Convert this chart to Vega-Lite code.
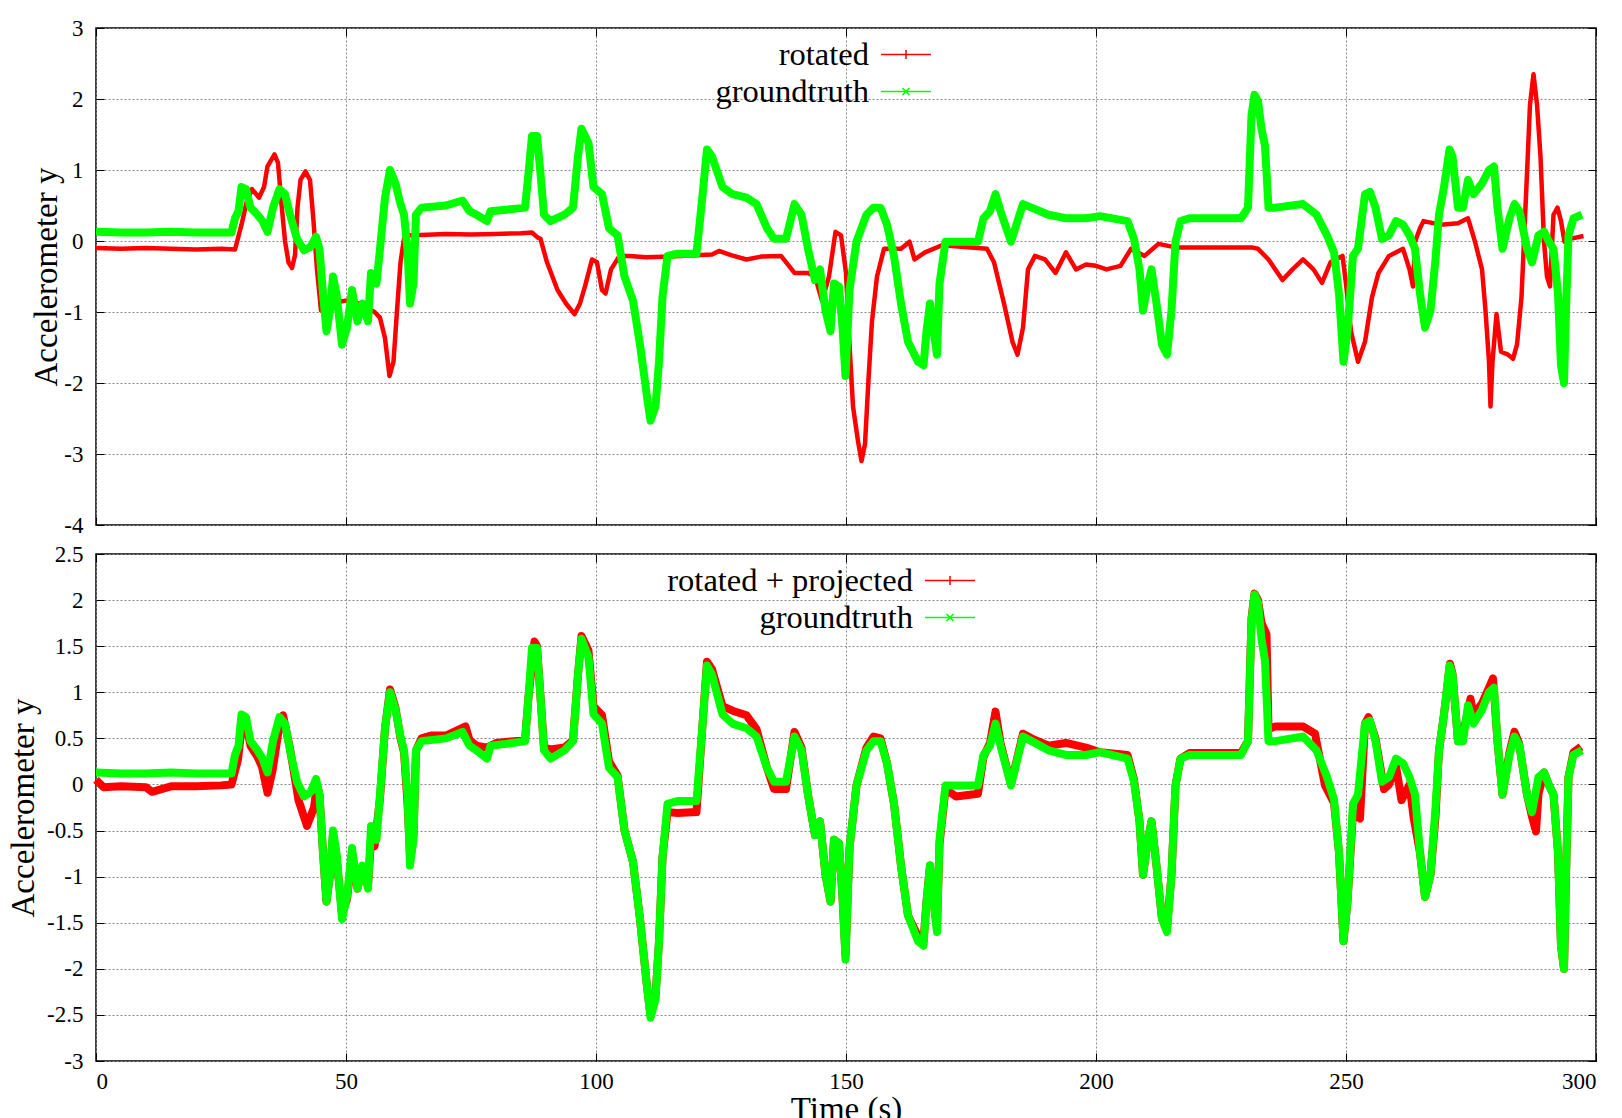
{
 "$schema": "https://vega.github.io/schema/vega-lite/v6.json",
 "background": "white",
 "padding": {"left": 6, "top": 16, "right": 12, "bottom": 4},
 "config": {
  "font": "Liberation Serif",
  "view": {"stroke": "#000000", "strokeWidth": 1.5},
  "axis": {
   "labelFont": "Liberation Serif", "labelFontSize": 23, "labelColor": "#000000",
   "titleFont": "Liberation Serif", "titleFontSize": 33, "titleFontWeight": "normal", "titleColor": "#000000",
   "domain": false, "tickColor": "#000000", "tickSize": -8, "tickWidth": 1,
   "gridColor": "#888888", "gridDash": [2, 2], "gridWidth": 1, "gridOpacity": 1
  },
  "legend": {
   "orient": "none", "title": null, "labelFont": "Liberation Serif", "labelFontSize": 32.5,
   "labelColor": "#000000", "labelAlign": "right", "labelOffset": -63, "labelLimit": 1000,
   "symbolSize": 2500, "symbolStrokeWidth": 1.5, "symbolType": "stroke", "rowPadding": 0, "clipHeight": 37
  }
 },
 "datasets": {
  "rot": [
   {"t":0,"v":-0.10,"s":"rotated"},{"t":5,"v":-0.11,"s":"rotated"},{"t":10,"v":-0.10,"s":"rotated"},{"t":15,"v":-0.11,"s":"rotated"},{"t":20,"v":-0.12,"s":"rotated"},{"t":25,"v":-0.11,"s":"rotated"},{"t":27.8,"v":-0.12,"s":"rotated"},{"t":29.1,"v":0.23,"s":"rotated"},{"t":30.2,"v":0.57,"s":"rotated"},{"t":31.2,"v":0.73,"s":"rotated"},{"t":32.6,"v":0.61,"s":"rotated"},{"t":33.6,"v":0.76,"s":"rotated"},{"t":34.3,"v":1.05,"s":"rotated"},{"t":35.7,"v":1.22,"s":"rotated"},{"t":36.4,"v":1.10,"s":"rotated"},{"t":37.1,"v":0.52,"s":"rotated"},{"t":37.8,"v":0.0,"s":"rotated"},{"t":38.5,"v":-0.30,"s":"rotated"},{"t":39.2,"v":-0.38,"s":"rotated"},{"t":39.8,"v":-0.20,"s":"rotated"},{"t":40.3,"v":0.47,"s":"rotated"},{"t":40.9,"v":0.86,"s":"rotated"},{"t":41.9,"v":0.98,"s":"rotated"},{"t":42.8,"v":0.86,"s":"rotated"},{"t":43.5,"v":0.28,"s":"rotated"},{"t":44.2,"v":-0.40,"s":"rotated"},{"t":45.0,"v":-0.98,"s":"rotated"},{"t":46.4,"v":-0.84,"s":"rotated"},{"t":47.8,"v":-0.87,"s":"rotated"},{"t":49.9,"v":-0.84,"s":"rotated"},{"t":52.6,"v":-0.88,"s":"rotated"},{"t":55.7,"v":-1.0,"s":"rotated"},{"t":56.8,"v":-1.08,"s":"rotated"},{"t":57.8,"v":-1.37,"s":"rotated"},{"t":58.7,"v":-1.90,"s":"rotated"},{"t":59.5,"v":-1.70,"s":"rotated"},{"t":60.2,"v":-0.98,"s":"rotated"},{"t":60.9,"v":-0.30,"s":"rotated"},{"t":61.6,"v":0.03,"s":"rotated"},{"t":62.3,"v":0.08,"s":"rotated"},{"t":63.7,"v":0.08,"s":"rotated"},{"t":70,"v":0.10,"s":"rotated"},{"t":75,"v":0.09,"s":"rotated"},{"t":80,"v":0.10,"s":"rotated"},{"t":85,"v":0.11,"s":"rotated"},{"t":87.2,"v":0.12,"s":"rotated"},{"t":88.3,"v":0.05,"s":"rotated"},{"t":88.9,"v":0.03,"s":"rotated"},{"t":90.2,"v":-0.30,"s":"rotated"},{"t":92.3,"v":-0.69,"s":"rotated"},{"t":94.0,"v":-0.88,"s":"rotated"},{"t":95.7,"v":-1.03,"s":"rotated"},{"t":96.8,"v":-0.88,"s":"rotated"},{"t":97.8,"v":-0.64,"s":"rotated"},{"t":99.2,"v":-0.26,"s":"rotated"},{"t":100.2,"v":-0.30,"s":"rotated"},{"t":101.2,"v":-0.69,"s":"rotated"},{"t":101.9,"v":-0.74,"s":"rotated"},{"t":103.0,"v":-0.40,"s":"rotated"},{"t":104.7,"v":-0.21,"s":"rotated"},{"t":106.7,"v":-0.21,"s":"rotated"},{"t":110,"v":-0.23,"s":"rotated"},{"t":115,"v":-0.22,"s":"rotated"},{"t":120,"v":-0.20,"s":"rotated"},{"t":123.2,"v":-0.19,"s":"rotated"},{"t":124.6,"v":-0.14,"s":"rotated"},{"t":127,"v":-0.20,"s":"rotated"},{"t":130.1,"v":-0.26,"s":"rotated"},{"t":133,"v":-0.22,"s":"rotated"},{"t":137,"v":-0.21,"s":"rotated"},{"t":139.7,"v":-0.45,"s":"rotated"},{"t":142.4,"v":-0.45,"s":"rotated"},{"t":143.8,"v":-0.50,"s":"rotated"},{"t":145.2,"v":-0.84,"s":"rotated"},{"t":146.6,"v":-0.50,"s":"rotated"},{"t":147.9,"v":0.13,"s":"rotated"},{"t":149.0,"v":0.08,"s":"rotated"},{"t":150.0,"v":-0.45,"s":"rotated"},{"t":150.7,"v":-1.46,"s":"rotated"},{"t":151.4,"v":-2.33,"s":"rotated"},{"t":152.4,"v":-2.82,"s":"rotated"},{"t":153.1,"v":-3.10,"s":"rotated"},{"t":153.8,"v":-2.86,"s":"rotated"},{"t":154.5,"v":-1.95,"s":"rotated"},{"t":155.2,"v":-1.13,"s":"rotated"},{"t":156.2,"v":-0.50,"s":"rotated"},{"t":157.6,"v":-0.11,"s":"rotated"},{"t":159.6,"v":-0.11,"s":"rotated"},{"t":161,"v":-0.11,"s":"rotated"},{"t":162.7,"v":-0.01,"s":"rotated"},{"t":163.7,"v":-0.26,"s":"rotated"},{"t":165.8,"v":-0.16,"s":"rotated"},{"t":169.2,"v":-0.06,"s":"rotated"},{"t":175,"v":-0.09,"s":"rotated"},{"t":178.2,"v":-0.11,"s":"rotated"},{"t":179.6,"v":-0.30,"s":"rotated"},{"t":181.6,"v":-0.88,"s":"rotated"},{"t":183.3,"v":-1.42,"s":"rotated"},{"t":184.3,"v":-1.60,"s":"rotated"},{"t":185.4,"v":-1.22,"s":"rotated"},{"t":186.4,"v":-0.40,"s":"rotated"},{"t":187.8,"v":-0.21,"s":"rotated"},{"t":189.8,"v":-0.26,"s":"rotated"},{"t":191.9,"v":-0.45,"s":"rotated"},{"t":194.0,"v":-0.16,"s":"rotated"},{"t":196.0,"v":-0.40,"s":"rotated"},{"t":198,"v":-0.33,"s":"rotated"},{"t":200,"v":-0.35,"s":"rotated"},{"t":202.1,"v":-0.40,"s":"rotated"},{"t":204.9,"v":-0.35,"s":"rotated"},{"t":207.0,"v":-0.11,"s":"rotated"},{"t":209.7,"v":-0.21,"s":"rotated"},{"t":212.5,"v":-0.04,"s":"rotated"},{"t":215.9,"v":-0.09,"s":"rotated"},{"t":220,"v":-0.09,"s":"rotated"},{"t":225,"v":-0.09,"s":"rotated"},{"t":231.1,"v":-0.09,"s":"rotated"},{"t":232.4,"v":-0.11,"s":"rotated"},{"t":234.5,"v":-0.26,"s":"rotated"},{"t":237.3,"v":-0.55,"s":"rotated"},{"t":239.3,"v":-0.40,"s":"rotated"},{"t":241.4,"v":-0.26,"s":"rotated"},{"t":243.5,"v":-0.40,"s":"rotated"},{"t":245.2,"v":-0.59,"s":"rotated"},{"t":246.9,"v":-0.30,"s":"rotated"},{"t":249.3,"v":-0.21,"s":"rotated"},{"t":250.0,"v":-0.60,"s":"rotated"},{"t":251.0,"v":-1.27,"s":"rotated"},{"t":252.4,"v":-1.70,"s":"rotated"},{"t":253.8,"v":-1.42,"s":"rotated"},{"t":255.2,"v":-0.79,"s":"rotated"},{"t":256.5,"v":-0.45,"s":"rotated"},{"t":258.6,"v":-0.21,"s":"rotated"},{"t":261.4,"v":-0.11,"s":"rotated"},{"t":262.7,"v":-0.40,"s":"rotated"},{"t":263.4,"v":-0.64,"s":"rotated"},{"t":263.8,"v":-0.01,"s":"rotated"},{"t":264.8,"v":0.18,"s":"rotated"},{"t":265.5,"v":0.28,"s":"rotated"},{"t":268.9,"v":0.23,"s":"rotated"},{"t":272.4,"v":0.25,"s":"rotated"},{"t":274.4,"v":0.32,"s":"rotated"},{"t":275.8,"v":-0.01,"s":"rotated"},{"t":277.2,"v":-0.40,"s":"rotated"},{"t":277.9,"v":-0.98,"s":"rotated"},{"t":278.6,"v":-1.70,"s":"rotated"},{"t":278.9,"v":-2.33,"s":"rotated"},{"t":279.3,"v":-1.70,"s":"rotated"},{"t":280.1,"v":-1.03,"s":"rotated"},{"t":281.0,"v":-1.56,"s":"rotated"},{"t":282.4,"v":-1.60,"s":"rotated"},{"t":283.4,"v":-1.66,"s":"rotated"},{"t":284.2,"v":-1.46,"s":"rotated"},{"t":285.1,"v":-0.79,"s":"rotated"},{"t":286.2,"v":0.95,"s":"rotated"},{"t":286.8,"v":1.92,"s":"rotated"},{"t":287.5,"v":2.35,"s":"rotated"},{"t":288.2,"v":1.92,"s":"rotated"},{"t":288.9,"v":1.19,"s":"rotated"},{"t":289.6,"v":-0.01,"s":"rotated"},{"t":290.2,"v":-0.50,"s":"rotated"},{"t":290.8,"v":-0.64,"s":"rotated"},{"t":291.5,"v":0.37,"s":"rotated"},{"t":292.3,"v":0.47,"s":"rotated"},{"t":293.0,"v":0.28,"s":"rotated"},{"t":293.7,"v":-0.01,"s":"rotated"},{"t":294.8,"v":0.03,"s":"rotated"},{"t":297.5,"v":0.07,"s":"rotated"}
  ],
  "gt": [
   {"t":0,"v":0.13,"s":"groundtruth"},{"t":5,"v":0.12,"s":"groundtruth"},{"t":10,"v":0.12,"s":"groundtruth"},{"t":15,"v":0.13,"s":"groundtruth"},{"t":20,"v":0.12,"s":"groundtruth"},{"t":25,"v":0.12,"s":"groundtruth"},{"t":27.1,"v":0.12,"s":"groundtruth"},{"t":27.8,"v":0.32,"s":"groundtruth"},{"t":28.5,"v":0.42,"s":"groundtruth"},{"t":29.1,"v":0.76,"s":"groundtruth"},{"t":30.0,"v":0.73,"s":"groundtruth"},{"t":30.9,"v":0.47,"s":"groundtruth"},{"t":32.3,"v":0.37,"s":"groundtruth"},{"t":33.3,"v":0.28,"s":"groundtruth"},{"t":34.3,"v":0.13,"s":"groundtruth"},{"t":35.4,"v":0.47,"s":"groundtruth"},{"t":36.7,"v":0.73,"s":"groundtruth"},{"t":37.8,"v":0.66,"s":"groundtruth"},{"t":38.8,"v":0.37,"s":"groundtruth"},{"t":40.2,"v":0.03,"s":"groundtruth"},{"t":41.6,"v":-0.13,"s":"groundtruth"},{"t":42.96,"v":-0.08,"s":"groundtruth"},{"t":44.0,"v":0.06,"s":"groundtruth"},{"t":44.7,"v":-0.11,"s":"groundtruth"},{"t":45.4,"v":-0.74,"s":"groundtruth"},{"t":46.1,"v":-1.27,"s":"groundtruth"},{"t":46.8,"v":-0.98,"s":"groundtruth"},{"t":47.4,"v":-0.50,"s":"groundtruth"},{"t":48.1,"v":-0.74,"s":"groundtruth"},{"t":49.2,"v":-1.46,"s":"groundtruth"},{"t":50.2,"v":-1.22,"s":"groundtruth"},{"t":51.2,"v":-0.69,"s":"groundtruth"},{"t":52.3,"v":-1.13,"s":"groundtruth"},{"t":53.3,"v":-0.88,"s":"groundtruth"},{"t":54.4,"v":-1.13,"s":"groundtruth"},{"t":55.0,"v":-0.45,"s":"groundtruth"},{"t":56.1,"v":-0.60,"s":"groundtruth"},{"t":56.8,"v":-0.11,"s":"groundtruth"},{"t":57.8,"v":0.61,"s":"groundtruth"},{"t":58.8,"v":1.00,"s":"groundtruth"},{"t":59.9,"v":0.81,"s":"groundtruth"},{"t":60.9,"v":0.52,"s":"groundtruth"},{"t":61.6,"v":0.37,"s":"groundtruth"},{"t":62.3,"v":-0.11,"s":"groundtruth"},{"t":62.8,"v":-0.88,"s":"groundtruth"},{"t":63.5,"v":-0.60,"s":"groundtruth"},{"t":64.0,"v":0.37,"s":"groundtruth"},{"t":65.1,"v":0.47,"s":"groundtruth"},{"t":70,"v":0.50,"s":"groundtruth"},{"t":73.3,"v":0.57,"s":"groundtruth"},{"t":74.7,"v":0.42,"s":"groundtruth"},{"t":76.1,"v":0.37,"s":"groundtruth"},{"t":78.2,"v":0.28,"s":"groundtruth"},{"t":78.9,"v":0.42,"s":"groundtruth"},{"t":82,"v":0.44,"s":"groundtruth"},{"t":85.8,"v":0.47,"s":"groundtruth"},{"t":86.5,"v":0.95,"s":"groundtruth"},{"t":87.2,"v":1.48,"s":"groundtruth"},{"t":88.2,"v":1.48,"s":"groundtruth"},{"t":88.9,"v":0.95,"s":"groundtruth"},{"t":89.6,"v":0.37,"s":"groundtruth"},{"t":90.9,"v":0.28,"s":"groundtruth"},{"t":93.7,"v":0.37,"s":"groundtruth"},{"t":95.4,"v":0.47,"s":"groundtruth"},{"t":96.4,"v":1.19,"s":"groundtruth"},{"t":97.1,"v":1.58,"s":"groundtruth"},{"t":98.5,"v":1.38,"s":"groundtruth"},{"t":99.5,"v":0.76,"s":"groundtruth"},{"t":101.2,"v":0.66,"s":"groundtruth"},{"t":102.6,"v":0.18,"s":"groundtruth"},{"t":104.3,"v":0.08,"s":"groundtruth"},{"t":105.7,"v":-0.50,"s":"groundtruth"},{"t":107.4,"v":-0.84,"s":"groundtruth"},{"t":108.8,"v":-1.46,"s":"groundtruth"},{"t":110.2,"v":-2.19,"s":"groundtruth"},{"t":110.9,"v":-2.53,"s":"groundtruth"},{"t":111.9,"v":-2.33,"s":"groundtruth"},{"t":112.6,"v":-1.70,"s":"groundtruth"},{"t":113.3,"v":-0.79,"s":"groundtruth"},{"t":114.3,"v":-0.21,"s":"groundtruth"},{"t":116.3,"v":-0.18,"s":"groundtruth"},{"t":120.1,"v":-0.18,"s":"groundtruth"},{"t":121.2,"v":0.57,"s":"groundtruth"},{"t":122.2,"v":1.29,"s":"groundtruth"},{"t":123.2,"v":1.19,"s":"groundtruth"},{"t":125.3,"v":0.76,"s":"groundtruth"},{"t":127.3,"v":0.66,"s":"groundtruth"},{"t":130.1,"v":0.61,"s":"groundtruth"},{"t":132.1,"v":0.52,"s":"groundtruth"},{"t":134.2,"v":0.18,"s":"groundtruth"},{"t":135.6,"v":0.03,"s":"groundtruth"},{"t":138.0,"v":0.03,"s":"groundtruth"},{"t":139.7,"v":0.52,"s":"groundtruth"},{"t":141.1,"v":0.37,"s":"groundtruth"},{"t":142.4,"v":-0.11,"s":"groundtruth"},{"t":143.8,"v":-0.55,"s":"groundtruth"},{"t":144.8,"v":-0.40,"s":"groundtruth"},{"t":145.9,"v":-0.98,"s":"groundtruth"},{"t":146.9,"v":-1.27,"s":"groundtruth"},{"t":147.6,"v":-0.60,"s":"groundtruth"},{"t":148.6,"v":-0.64,"s":"groundtruth"},{"t":149.3,"v":-1.22,"s":"groundtruth"},{"t":149.9,"v":-1.90,"s":"groundtruth"},{"t":150.7,"v":-0.69,"s":"groundtruth"},{"t":152.1,"v":-0.01,"s":"groundtruth"},{"t":154.1,"v":0.37,"s":"groundtruth"},{"t":155.5,"v":0.47,"s":"groundtruth"},{"t":156.9,"v":0.47,"s":"groundtruth"},{"t":158.2,"v":0.23,"s":"groundtruth"},{"t":159.6,"v":-0.21,"s":"groundtruth"},{"t":161.0,"v":-0.88,"s":"groundtruth"},{"t":162.4,"v":-1.42,"s":"groundtruth"},{"t":164.4,"v":-1.70,"s":"groundtruth"},{"t":165.5,"v":-1.75,"s":"groundtruth"},{"t":166.1,"v":-1.27,"s":"groundtruth"},{"t":166.8,"v":-0.88,"s":"groundtruth"},{"t":167.5,"v":-1.27,"s":"groundtruth"},{"t":168.2,"v":-1.60,"s":"groundtruth"},{"t":168.7,"v":-0.60,"s":"groundtruth"},{"t":169.9,"v":-0.01,"s":"groundtruth"},{"t":176.4,"v":-0.01,"s":"groundtruth"},{"t":177.5,"v":0.32,"s":"groundtruth"},{"t":178.8,"v":0.42,"s":"groundtruth"},{"t":179.9,"v":0.66,"s":"groundtruth"},{"t":180.9,"v":0.42,"s":"groundtruth"},{"t":183.0,"v":-0.01,"s":"groundtruth"},{"t":184.3,"v":0.28,"s":"groundtruth"},{"t":185.4,"v":0.52,"s":"groundtruth"},{"t":187.1,"v":0.47,"s":"groundtruth"},{"t":190.5,"v":0.37,"s":"groundtruth"},{"t":194.0,"v":0.32,"s":"groundtruth"},{"t":198,"v":0.32,"s":"groundtruth"},{"t":200.8,"v":0.35,"s":"groundtruth"},{"t":206.3,"v":0.28,"s":"groundtruth"},{"t":207.6,"v":0.03,"s":"groundtruth"},{"t":208.7,"v":-0.40,"s":"groundtruth"},{"t":209.4,"v":-0.98,"s":"groundtruth"},{"t":210.4,"v":-0.60,"s":"groundtruth"},{"t":211.1,"v":-0.40,"s":"groundtruth"},{"t":212.1,"v":-0.88,"s":"groundtruth"},{"t":213.2,"v":-1.46,"s":"groundtruth"},{"t":214.2,"v":-1.60,"s":"groundtruth"},{"t":215.1,"v":-0.98,"s":"groundtruth"},{"t":215.9,"v":-0.01,"s":"groundtruth"},{"t":216.9,"v":0.28,"s":"groundtruth"},{"t":218.7,"v":0.32,"s":"groundtruth"},{"t":229.0,"v":0.32,"s":"groundtruth"},{"t":230.4,"v":0.47,"s":"groundtruth"},{"t":231.1,"v":1.77,"s":"groundtruth"},{"t":231.7,"v":2.06,"s":"groundtruth"},{"t":232.4,"v":1.97,"s":"groundtruth"},{"t":233.1,"v":1.58,"s":"groundtruth"},{"t":233.8,"v":1.34,"s":"groundtruth"},{"t":234.5,"v":0.47,"s":"groundtruth"},{"t":235.9,"v":0.47,"s":"groundtruth"},{"t":241.4,"v":0.52,"s":"groundtruth"},{"t":244.1,"v":0.37,"s":"groundtruth"},{"t":246.2,"v":0.08,"s":"groundtruth"},{"t":247.6,"v":-0.16,"s":"groundtruth"},{"t":248.6,"v":-0.74,"s":"groundtruth"},{"t":249.5,"v":-1.70,"s":"groundtruth"},{"t":250.3,"v":-1.27,"s":"groundtruth"},{"t":251.4,"v":-0.21,"s":"groundtruth"},{"t":252.4,"v":-0.11,"s":"groundtruth"},{"t":253.8,"v":0.66,"s":"groundtruth"},{"t":254.8,"v":0.69,"s":"groundtruth"},{"t":255.9,"v":0.47,"s":"groundtruth"},{"t":257.2,"v":0.03,"s":"groundtruth"},{"t":258.6,"v":0.08,"s":"groundtruth"},{"t":260.0,"v":0.28,"s":"groundtruth"},{"t":261.4,"v":0.23,"s":"groundtruth"},{"t":262.7,"v":0.08,"s":"groundtruth"},{"t":263.8,"v":-0.11,"s":"groundtruth"},{"t":264.8,"v":-0.74,"s":"groundtruth"},{"t":265.8,"v":-1.22,"s":"groundtruth"},{"t":266.9,"v":-0.98,"s":"groundtruth"},{"t":267.9,"v":-0.26,"s":"groundtruth"},{"t":268.6,"v":0.37,"s":"groundtruth"},{"t":269.6,"v":0.76,"s":"groundtruth"},{"t":270.7,"v":1.29,"s":"groundtruth"},{"t":271.3,"v":1.19,"s":"groundtruth"},{"t":272.4,"v":0.47,"s":"groundtruth"},{"t":273.4,"v":0.47,"s":"groundtruth"},{"t":274.4,"v":0.86,"s":"groundtruth"},{"t":275.5,"v":0.66,"s":"groundtruth"},{"t":277.2,"v":0.81,"s":"groundtruth"},{"t":278.6,"v":1.00,"s":"groundtruth"},{"t":279.6,"v":1.05,"s":"groundtruth"},{"t":280.3,"v":0.47,"s":"groundtruth"},{"t":281.3,"v":-0.11,"s":"groundtruth"},{"t":282.7,"v":0.32,"s":"groundtruth"},{"t":283.7,"v":0.52,"s":"groundtruth"},{"t":284.7,"v":0.42,"s":"groundtruth"},{"t":286.2,"v":-0.11,"s":"groundtruth"},{"t":287.2,"v":-0.30,"s":"groundtruth"},{"t":288.5,"v":0.08,"s":"groundtruth"},{"t":289.6,"v":0.13,"s":"groundtruth"},{"t":290.6,"v":-0.01,"s":"groundtruth"},{"t":291.5,"v":-0.11,"s":"groundtruth"},{"t":292.4,"v":-0.74,"s":"groundtruth"},{"t":293.0,"v":-1.75,"s":"groundtruth"},{"t":293.6,"v":-2.00,"s":"groundtruth"},{"t":294.0,"v":-0.98,"s":"groundtruth"},{"t":294.5,"v":0.08,"s":"groundtruth"},{"t":295.5,"v":0.32,"s":"groundtruth"},{"t":297.2,"v":0.37,"s":"groundtruth"}
  ],
  "proj": [
   {"t":0,"v":0.05,"s":"rotated + projected"},{"t":1.5,"v":-0.03,"s":"rotated + projected"},{"t":5,"v":-0.02,"s":"rotated + projected"},{"t":10,"v":-0.03,"s":"rotated + projected"},{"t":11.2,"v":-0.08,"s":"rotated + projected"},{"t":15,"v":-0.02,"s":"rotated + projected"},{"t":20,"v":-0.02,"s":"rotated + projected"},{"t":25,"v":-0.01,"s":"rotated + projected"},{"t":27.1,"v":0.0,"s":"rotated + projected"},{"t":28.4,"v":0.27,"s":"rotated + projected"},{"t":29.1,"v":0.6,"s":"rotated + projected"},{"t":29.8,"v":0.72,"s":"rotated + projected"},{"t":30.9,"v":0.42,"s":"rotated + projected"},{"t":32.3,"v":0.30,"s":"rotated + projected"},{"t":33.2,"v":0.19,"s":"rotated + projected"},{"t":34.3,"v":-0.09,"s":"rotated + projected"},{"t":35.3,"v":0.15,"s":"rotated + projected"},{"t":36.7,"v":0.65,"s":"rotated + projected"},{"t":37.4,"v":0.75,"s":"rotated + projected"},{"t":38.8,"v":0.39,"s":"rotated + projected"},{"t":40.5,"v":-0.17,"s":"rotated + projected"},{"t":42.2,"v":-0.45,"s":"rotated + projected"},{"t":43.6,"v":-0.25,"s":"rotated + projected"},{"t":44.2,"v":0.0,"s":"rotated + projected"},{"t":44.7,"v":-0.11,"s":"rotated + projected"},{"t":45.4,"v":-0.74,"s":"rotated + projected"},{"t":46.1,"v":-1.27,"s":"rotated + projected"},{"t":46.8,"v":-0.98,"s":"rotated + projected"},{"t":47.4,"v":-0.55,"s":"rotated + projected"},{"t":48.1,"v":-0.78,"s":"rotated + projected"},{"t":49.2,"v":-1.40,"s":"rotated + projected"},{"t":50.2,"v":-1.25,"s":"rotated + projected"},{"t":51.2,"v":-0.75,"s":"rotated + projected"},{"t":52.3,"v":-1.13,"s":"rotated + projected"},{"t":53.3,"v":-0.9,"s":"rotated + projected"},{"t":54.4,"v":-1.1,"s":"rotated + projected"},{"t":55.0,"v":-0.6,"s":"rotated + projected"},{"t":55.7,"v":-0.67,"s":"rotated + projected"},{"t":56.8,"v":-0.15,"s":"rotated + projected"},{"t":57.8,"v":0.61,"s":"rotated + projected"},{"t":58.8,"v":1.03,"s":"rotated + projected"},{"t":59.9,"v":0.83,"s":"rotated + projected"},{"t":60.9,"v":0.5,"s":"rotated + projected"},{"t":61.6,"v":0.35,"s":"rotated + projected"},{"t":62.3,"v":-0.2,"s":"rotated + projected"},{"t":62.8,"v":-0.75,"s":"rotated + projected"},{"t":63.5,"v":-0.55,"s":"rotated + projected"},{"t":64.0,"v":0.37,"s":"rotated + projected"},{"t":65.1,"v":0.5,"s":"rotated + projected"},{"t":67,"v":0.53,"s":"rotated + projected"},{"t":70,"v":0.53,"s":"rotated + projected"},{"t":73.9,"v":0.63,"s":"rotated + projected"},{"t":74.7,"v":0.48,"s":"rotated + projected"},{"t":76.1,"v":0.42,"s":"rotated + projected"},{"t":78.2,"v":0.40,"s":"rotated + projected"},{"t":80,"v":0.45,"s":"rotated + projected"},{"t":85.8,"v":0.48,"s":"rotated + projected"},{"t":86.5,"v":0.95,"s":"rotated + projected"},{"t":87.7,"v":1.55,"s":"rotated + projected"},{"t":88.2,"v":1.5,"s":"rotated + projected"},{"t":88.9,"v":0.95,"s":"rotated + projected"},{"t":89.6,"v":0.40,"s":"rotated + projected"},{"t":90.9,"v":0.38,"s":"rotated + projected"},{"t":93.7,"v":0.40,"s":"rotated + projected"},{"t":95.4,"v":0.48,"s":"rotated + projected"},{"t":96.4,"v":1.19,"s":"rotated + projected"},{"t":97.1,"v":1.61,"s":"rotated + projected"},{"t":98.5,"v":1.45,"s":"rotated + projected"},{"t":99.5,"v":0.85,"s":"rotated + projected"},{"t":101.2,"v":0.75,"s":"rotated + projected"},{"t":102.6,"v":0.25,"s":"rotated + projected"},{"t":104.3,"v":0.1,"s":"rotated + projected"},{"t":105.7,"v":-0.50,"s":"rotated + projected"},{"t":107.4,"v":-0.84,"s":"rotated + projected"},{"t":108.8,"v":-1.46,"s":"rotated + projected"},{"t":110.2,"v":-2.19,"s":"rotated + projected"},{"t":110.9,"v":-2.50,"s":"rotated + projected"},{"t":111.9,"v":-2.30,"s":"rotated + projected"},{"t":112.6,"v":-1.70,"s":"rotated + projected"},{"t":113.3,"v":-0.79,"s":"rotated + projected"},{"t":114.3,"v":-0.30,"s":"rotated + projected"},{"t":116.3,"v":-0.31,"s":"rotated + projected"},{"t":120.1,"v":-0.30,"s":"rotated + projected"},{"t":121.2,"v":0.57,"s":"rotated + projected"},{"t":122.2,"v":1.33,"s":"rotated + projected"},{"t":123.2,"v":1.25,"s":"rotated + projected"},{"t":125.3,"v":0.85,"s":"rotated + projected"},{"t":127.3,"v":0.80,"s":"rotated + projected"},{"t":130.1,"v":0.75,"s":"rotated + projected"},{"t":132.1,"v":0.60,"s":"rotated + projected"},{"t":134.2,"v":0.18,"s":"rotated + projected"},{"t":135.6,"v":-0.05,"s":"rotated + projected"},{"t":138.0,"v":-0.05,"s":"rotated + projected"},{"t":139.7,"v":0.57,"s":"rotated + projected"},{"t":141.1,"v":0.40,"s":"rotated + projected"},{"t":142.4,"v":-0.11,"s":"rotated + projected"},{"t":143.8,"v":-0.55,"s":"rotated + projected"},{"t":144.8,"v":-0.40,"s":"rotated + projected"},{"t":145.9,"v":-0.98,"s":"rotated + projected"},{"t":146.9,"v":-1.27,"s":"rotated + projected"},{"t":147.6,"v":-0.60,"s":"rotated + projected"},{"t":148.6,"v":-0.64,"s":"rotated + projected"},{"t":149.3,"v":-1.22,"s":"rotated + projected"},{"t":149.9,"v":-1.85,"s":"rotated + projected"},{"t":150.7,"v":-0.69,"s":"rotated + projected"},{"t":152.1,"v":-0.01,"s":"rotated + projected"},{"t":154.1,"v":0.40,"s":"rotated + projected"},{"t":155.5,"v":0.52,"s":"rotated + projected"},{"t":156.9,"v":0.50,"s":"rotated + projected"},{"t":158.2,"v":0.23,"s":"rotated + projected"},{"t":159.6,"v":-0.21,"s":"rotated + projected"},{"t":161.0,"v":-0.88,"s":"rotated + projected"},{"t":162.4,"v":-1.42,"s":"rotated + projected"},{"t":164.4,"v":-1.65,"s":"rotated + projected"},{"t":165.5,"v":-1.70,"s":"rotated + projected"},{"t":166.1,"v":-1.27,"s":"rotated + projected"},{"t":166.8,"v":-0.88,"s":"rotated + projected"},{"t":167.5,"v":-1.27,"s":"rotated + projected"},{"t":168.2,"v":-1.55,"s":"rotated + projected"},{"t":168.7,"v":-0.65,"s":"rotated + projected"},{"t":169.9,"v":-0.05,"s":"rotated + projected"},{"t":172,"v":-0.13,"s":"rotated + projected"},{"t":176.4,"v":-0.10,"s":"rotated + projected"},{"t":177.5,"v":0.30,"s":"rotated + projected"},{"t":178.8,"v":0.45,"s":"rotated + projected"},{"t":179.9,"v":0.79,"s":"rotated + projected"},{"t":180.9,"v":0.45,"s":"rotated + projected"},{"t":183.0,"v":0.0,"s":"rotated + projected"},{"t":184.3,"v":0.30,"s":"rotated + projected"},{"t":185.4,"v":0.55,"s":"rotated + projected"},{"t":187.1,"v":0.50,"s":"rotated + projected"},{"t":190.5,"v":0.42,"s":"rotated + projected"},{"t":194.0,"v":0.45,"s":"rotated + projected"},{"t":198,"v":0.40,"s":"rotated + projected"},{"t":200.8,"v":0.35,"s":"rotated + projected"},{"t":206.3,"v":0.32,"s":"rotated + projected"},{"t":207.6,"v":0.05,"s":"rotated + projected"},{"t":208.7,"v":-0.40,"s":"rotated + projected"},{"t":209.4,"v":-0.98,"s":"rotated + projected"},{"t":210.4,"v":-0.60,"s":"rotated + projected"},{"t":211.1,"v":-0.40,"s":"rotated + projected"},{"t":212.1,"v":-0.88,"s":"rotated + projected"},{"t":213.2,"v":-1.46,"s":"rotated + projected"},{"t":214.2,"v":-1.55,"s":"rotated + projected"},{"t":215.1,"v":-0.98,"s":"rotated + projected"},{"t":215.9,"v":-0.01,"s":"rotated + projected"},{"t":216.9,"v":0.28,"s":"rotated + projected"},{"t":218.7,"v":0.34,"s":"rotated + projected"},{"t":229.0,"v":0.34,"s":"rotated + projected"},{"t":230.4,"v":0.47,"s":"rotated + projected"},{"t":231.1,"v":1.8,"s":"rotated + projected"},{"t":231.7,"v":2.07,"s":"rotated + projected"},{"t":232.4,"v":2.0,"s":"rotated + projected"},{"t":233.1,"v":1.75,"s":"rotated + projected"},{"t":234.1,"v":1.63,"s":"rotated + projected"},{"t":234.5,"v":0.6,"s":"rotated + projected"},{"t":235.9,"v":0.63,"s":"rotated + projected"},{"t":241.4,"v":0.63,"s":"rotated + projected"},{"t":243.8,"v":0.55,"s":"rotated + projected"},{"t":245.8,"v":-0.01,"s":"rotated + projected"},{"t":247.6,"v":-0.2,"s":"rotated + projected"},{"t":248.6,"v":-0.74,"s":"rotated + projected"},{"t":249.5,"v":-1.70,"s":"rotated + projected"},{"t":250.3,"v":-1.27,"s":"rotated + projected"},{"t":251.4,"v":-0.3,"s":"rotated + projected"},{"t":252.8,"v":-0.37,"s":"rotated + projected"},{"t":253.8,"v":0.66,"s":"rotated + projected"},{"t":254.5,"v":0.73,"s":"rotated + projected"},{"t":255.9,"v":0.5,"s":"rotated + projected"},{"t":257.6,"v":-0.05,"s":"rotated + projected"},{"t":258.6,"v":0.0,"s":"rotated + projected"},{"t":260.0,"v":0.2,"s":"rotated + projected"},{"t":261.1,"v":-0.17,"s":"rotated + projected"},{"t":262.7,"v":0.0,"s":"rotated + projected"},{"t":263.5,"v":-0.35,"s":"rotated + projected"},{"t":264.8,"v":-0.74,"s":"rotated + projected"},{"t":265.8,"v":-1.22,"s":"rotated + projected"},{"t":266.9,"v":-0.98,"s":"rotated + projected"},{"t":267.9,"v":-0.35,"s":"rotated + projected"},{"t":268.6,"v":0.37,"s":"rotated + projected"},{"t":269.6,"v":0.76,"s":"rotated + projected"},{"t":270.8,"v":1.31,"s":"rotated + projected"},{"t":271.3,"v":1.2,"s":"rotated + projected"},{"t":272.4,"v":0.47,"s":"rotated + projected"},{"t":273.4,"v":0.55,"s":"rotated + projected"},{"t":274.9,"v":0.93,"s":"rotated + projected"},{"t":275.5,"v":0.75,"s":"rotated + projected"},{"t":277.2,"v":0.88,"s":"rotated + projected"},{"t":278.6,"v":1.05,"s":"rotated + projected"},{"t":279.4,"v":1.15,"s":"rotated + projected"},{"t":280.3,"v":0.47,"s":"rotated + projected"},{"t":281.3,"v":-0.11,"s":"rotated + projected"},{"t":282.7,"v":0.35,"s":"rotated + projected"},{"t":283.7,"v":0.57,"s":"rotated + projected"},{"t":284.6,"v":0.45,"s":"rotated + projected"},{"t":286.2,"v":-0.11,"s":"rotated + projected"},{"t":287.2,"v":-0.35,"s":"rotated + projected"},{"t":288.0,"v":-0.51,"s":"rotated + projected"},{"t":288.5,"v":-0.1,"s":"rotated + projected"},{"t":289.6,"v":0.13,"s":"rotated + projected"},{"t":290.6,"v":-0.01,"s":"rotated + projected"},{"t":291.5,"v":-0.11,"s":"rotated + projected"},{"t":292.4,"v":-0.74,"s":"rotated + projected"},{"t":293.0,"v":-1.75,"s":"rotated + projected"},{"t":293.6,"v":-2.0,"s":"rotated + projected"},{"t":294.0,"v":-0.98,"s":"rotated + projected"},{"t":294.5,"v":0.08,"s":"rotated + projected"},{"t":295.5,"v":0.35,"s":"rotated + projected"},{"t":297.0,"v":0.41,"s":"rotated + projected"}
  ]
 },
 "spacing": 29,
 "bounds": "flush",
 "resolve": {"scale": {"y": "independent", "color": "independent"}, "legend": {"color": "independent"}},
 "vconcat": [
  {
   "width": 1500, "height": 497,
   "resolve": {"axis": {"x": "independent", "y": "independent"}},
   "layer": [
    {
     "data": {"name": "rot"},
     "mark": {"type": "line", "strokeWidth": 4.5, "strokeJoin": "round"},
     "encoding": {
      "x": {"field": "t", "type": "quantitative", "scale": {"domain": [0, 300], "nice": false},
            "axis": {"values": [0, 50, 100, 150, 200, 250, 300], "labels": false, "title": null}},
      "y": {"field": "v", "type": "quantitative", "scale": {"domain": [-4, 3], "nice": false, "zero": false},
            "axis": {"values": [-4, -3, -2, -1, 0, 1, 2, 3], "labelExpr": "'' + datum.value", "labelPadding": 21,
                     "title": "Accelerometer y", "titleX": -50, "titleBaseline": "middle"}},
      "color": {"field": "s", "type": "nominal",
                "scale": {"domain": ["rotated", "groundtruth"], "range": ["#ff0000", "#00ff00"]},
                "legend": {"legendX": 784, "legendY": 8,
                           "encode": {"entries": {"update": {"width": {"value": 60}, "height": {"value": 37}}},
                                      "symbols": {"update": {"shape": {"signal": "datum.value === 'groundtruth' ? 'M-1,0H1M-0.14,-0.14L0.14,0.14M-0.14,0.14L0.14,-0.14' : 'M-1,0H1M0,-0.18V0.18'"}}}}}}
     }
    },
    {
     "data": {"name": "gt"},
     "mark": {"type": "line", "strokeWidth": 8, "strokeJoin": "round"},
     "encoding": {
      "x": {"field": "t", "type": "quantitative",
            "axis": {"orient": "top", "values": [0, 50, 100, 150, 200, 250, 300], "labels": false, "title": null, "grid": false}},
      "y": {"field": "v", "type": "quantitative",
            "axis": {"orient": "right", "values": [-4, -3, -2, -1, 0, 1, 2, 3], "labels": false, "title": null, "grid": false}},
      "color": {"field": "s", "type": "nominal"}
     }
    }
   ]
  },
  {
   "width": 1500, "height": 507,
   "resolve": {"axis": {"x": "independent", "y": "independent"}},
   "layer": [
    {
     "data": {"name": "proj"},
     "mark": {"type": "line", "strokeWidth": 8, "strokeJoin": "round"},
     "encoding": {
      "x": {"field": "t", "type": "quantitative", "scale": {"domain": [0, 300], "nice": false},
            "axis": {"values": [0, 50, 100, 150, 200, 250, 300], "labelPadding": 17, "title": "Time (s)", "titlePadding": 0}},
      "y": {"field": "v", "type": "quantitative", "scale": {"domain": [-3, 2.5], "nice": false, "zero": false},
            "axis": {"values": [-3, -2.5, -2, -1.5, -1, -0.5, 0, 0.5, 1, 1.5, 2, 2.5], "labelExpr": "'' + datum.value", "labelPadding": 21,
                     "title": "Accelerometer y", "titleX": -73, "titleBaseline": "middle"}},
      "color": {"field": "s", "type": "nominal",
                "scale": {"domain": ["rotated + projected", "groundtruth"], "range": ["#ff0000", "#00ff00"]},
                "legend": {"legendX": 828, "legendY": 8,
                           "encode": {"entries": {"update": {"width": {"value": 60}, "height": {"value": 37}}},
                                      "symbols": {"update": {"shape": {"signal": "datum.value === 'groundtruth' ? 'M-1,0H1M-0.14,-0.14L0.14,0.14M-0.14,0.14L0.14,-0.14' : 'M-1,0H1M0,-0.18V0.18'"}}}}}}
     }
    },
    {
     "data": {"name": "gt"},
     "mark": {"type": "line", "strokeWidth": 8, "strokeJoin": "round"},
     "encoding": {
      "x": {"field": "t", "type": "quantitative",
            "axis": {"orient": "top", "values": [0, 50, 100, 150, 200, 250, 300], "labels": false, "title": null, "grid": false}},
      "y": {"field": "v", "type": "quantitative",
            "axis": {"orient": "right", "values": [-3, -2.5, -2, -1.5, -1, -0.5, 0, 0.5, 1, 1.5, 2, 2.5], "labels": false, "title": null, "grid": false}},
      "color": {"field": "s", "type": "nominal"}
     }
    }
   ]
  }
 ]
}
